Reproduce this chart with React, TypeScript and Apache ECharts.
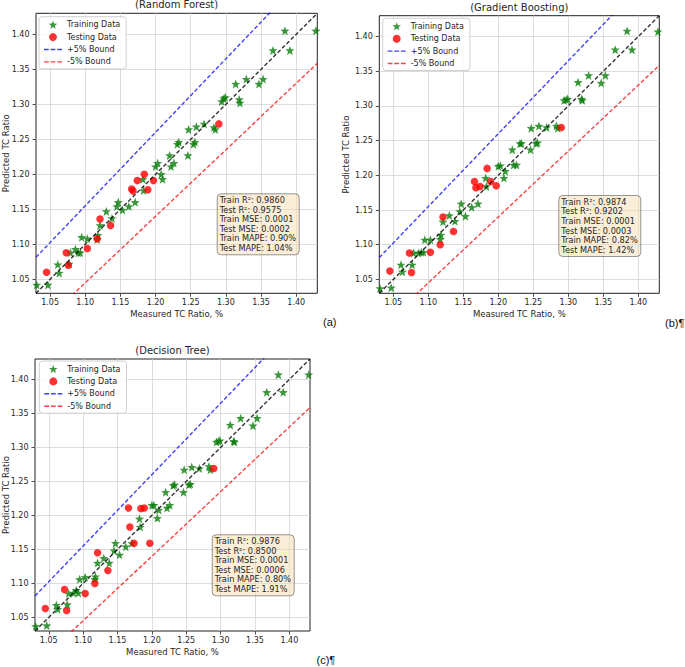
import { useEffect, useRef } from "react";
import * as echarts from "echarts";

const AXIS_MIN = 1.03;
const AXIS_MAX = 1.43;
const TICKS = [1.05, 1.1, 1.15, 1.2, 1.25, 1.3, 1.35, 1.4];
const BOUND = 0.05;

const trainMeasured = [
  1.031, 1.047, 1.061, 1.063, 1.077, 1.079, 1.086, 1.09, 1.093, 1.095, 1.103, 1.117, 1.118,
  1.121, 1.13, 1.138, 1.145, 1.147, 1.153, 1.162, 1.171, 1.182, 1.183, 1.2, 1.203, 1.208,
  1.21, 1.22, 1.222, 1.226, 1.231, 1.233, 1.246, 1.247, 1.254, 1.256, 1.258, 1.269, 1.283,
  1.285, 1.294, 1.297, 1.299, 1.314, 1.319, 1.32, 1.329, 1.347, 1.353, 1.367, 1.391, 1.384,
  1.428,
];
const trainPredRF = [
  1.042, 1.042, 1.071, 1.059, 1.072, 1.088, 1.093, 1.088, 1.088, 1.11, 1.108, 1.107, 1.113,
  1.127, 1.147, 1.137, 1.154, 1.16, 1.149, 1.154, 1.16, 1.193, 1.177, 1.211, 1.216, 1.2,
  1.193, 1.227, 1.211, 1.216, 1.243, 1.246, 1.227, 1.264, 1.243, 1.246, 1.268, 1.272, 1.267,
  1.264, 1.304, 1.308, 1.31, 1.329, 1.307, 1.302, 1.336, 1.329, 1.336, 1.377, 1.377, 1.405,
  1.405,
];
const trainPredGB = [
  1.037, 1.038, 1.071, 1.061, 1.071, 1.088, 1.088, 1.089, 1.089, 1.107, 1.107, 1.108, 1.114,
  1.133, 1.142, 1.134, 1.148, 1.159, 1.141, 1.154, 1.159, 1.196, 1.184, 1.213, 1.214, 1.196,
  1.206, 1.237, 1.215, 1.215, 1.246, 1.246, 1.237, 1.268, 1.246, 1.247, 1.271, 1.269, 1.271,
  1.268, 1.308, 1.309, 1.31, 1.334, 1.31, 1.308, 1.344, 1.333, 1.344, 1.381, 1.381, 1.408,
  1.407,
];
const trainPredDT = [
  1.037, 1.038, 1.068, 1.062, 1.069, 1.085, 1.086, 1.09, 1.086, 1.106, 1.109, 1.106, 1.11,
  1.13, 1.137, 1.13, 1.148, 1.159, 1.142, 1.154, 1.159, 1.195, 1.183, 1.215, 1.215, 1.196,
  1.208, 1.234, 1.211, 1.215, 1.244, 1.245, 1.234, 1.267, 1.245, 1.246, 1.271, 1.269, 1.272,
  1.267, 1.308, 1.309, 1.31, 1.333, 1.309, 1.308, 1.343, 1.332, 1.343, 1.381, 1.381, 1.407,
  1.407,
];

const testMeasured = [
  1.045, 1.073, 1.076, 1.103, 1.117, 1.121, 1.136, 1.166, 1.168, 1.174, 1.184, 1.189, 1.197, 1.29,
];
const testPredRF = [
  1.06, 1.088, 1.07, 1.094, 1.108, 1.136, 1.127, 1.179, 1.176, 1.191, 1.2, 1.178, 1.191, 1.272,
];
const testPredGB = [
  1.062, 1.088, 1.06, 1.089, 1.1, 1.14, 1.119, 1.191, 1.182, 1.184, 1.21, 1.191, 1.185, 1.269,
];
const testPredDT = [
  1.063, 1.091, 1.06, 1.085, 1.1, 1.145, 1.119, 1.211, 1.183, 1.159, 1.21, 1.211, 1.159, 1.269,
];

const panelTitles = ["(Random Forest)", "(Gradient Boosting)", "(Decision Tree)"];
const panelTags = ["(a)", "(b)¶", "(c)¶"];
const metricsRF = ["Train R²: 0.9860", "Test R²: 0.9575", "Train MSE: 0.0001", "Test MSE: 0.0002", "Train MAPE: 0.90%", "Test MAPE: 1.04%"];
const metricsGB = ["Train R²: 0.9874", "Test R²: 0.9202", "Train MSE: 0.0001", "Test MSE: 0.0003", "Train MAPE: 0.82%", "Test MAPE: 1.42%"];
const metricsDT = ["Train R²: 0.9876", "Test R²: 0.8500", "Train MSE: 0.0001", "Test MSE: 0.0006", "Train MAPE: 0.80%", "Test MAPE: 1.91%"];
const legendNames = ["Training Data", "Testing Data", "+5% Bound", "-5% Bound"];
const xName = "Measured TC Ratio, %";
const yName = "Predicted TC Ratio";

const FONT = "DejaVu Sans";
const TXT = "#262626";
const GREEN = "#0a7d0a";
const BLUE = "rgba(0,0,255,0.75)";
const RED_LINE = "rgba(255,0,0,0.75)";
const STAR =
  "path://M12,1 L14.9,8.6 L23,8.9 L16.6,13.9 L18.9,21.8 L12,17.2 L5.1,21.8 L7.4,13.9 L1,8.9 L9.1,8.6 Z";
const DASH_ICON = "path://M0,0H5V1.5H0Z M7,0H12V1.5H7Z M14,0H19V1.5H14Z";

const layouts = [
  { grid: { left: 36, top: 13.3, width: 281.3, height: 280 }, legend: { left: 39, top: 16.7 }, box: { left: 216.7, top: 193.3 }, yGap: 26, xGap: 16, tag: { x: 323, y: 322 } },
  { grid: { left: 379.3, top: 15.7, width: 280, height: 277.6 }, legend: { left: 382.7, top: 18.3 }, box: { left: 558.3, top: 195 }, yGap: 28.8, xGap: 16, tag: { x: 665, y: 323 } },
  { grid: { left: 35, top: 359, width: 275, height: 272 }, legend: { left: 39.3, top: 361 }, box: { left: 211.7, top: 534.3 }, yGap: 25, xGap: 16.5, tag: { x: 316.5, y: 660 } },
];

const panelData = [
  { train: trainPredRF, test: testPredRF, metrics: metricsRF },
  { train: trainPredGB, test: testPredGB, metrics: metricsGB },
  { train: trainPredDT, test: testPredDT, metrics: metricsDT },
];

function axisCommon(i: number, name: string, gap: number, labelMargin: number) {
  return {
    gridIndex: i,
    type: "value",
    min: AXIS_MIN,
    max: AXIS_MAX,
    splitNumber: 8,
    minInterval: 0.05,
    maxInterval: 0.05,
    name,
    nameLocation: "middle",
    nameGap: gap,
    nameMoveOverlap: false,
    nameTextStyle: { fontSize: 8.5, color: TXT, fontFamily: FONT },
    axisLine: { show: false },
    axisTick: { show: true, length: 3.5, lineStyle: { color: "#222", width: 0.8 }, customValues: TICKS },
    axisLabel: {
      customValues: TICKS,
      formatter: (v: number) => v.toFixed(2),
      fontSize: 8,
      color: TXT,
      fontFamily: FONT,
      margin: labelMargin,
    },
    splitLine: { show: true, lineStyle: { color: "#d4d4d4", width: 0.8 } },
  };
}

function buildOption() {
  const grid: any[] = [];
  const xAxis: any[] = [];
  const yAxis: any[] = [];
  const series: any[] = [];
  const legend: any[] = [];
  const title: any[] = [];
  const graphic: any[] = [];

  layouts.forEach((L, i) => {
    const P = panelData[i];
    grid.push({
      ...L.grid,
      show: true,
      borderColor: "#222",
      borderWidth: 1,
      backgroundColor: "transparent",
      containLabel: false,
      outerBoundsMode: "none",
    });
    xAxis.push(axisCommon(i, xName, L.xGap, 5));
    yAxis.push(axisCommon(i, yName, L.yGap, 6.5));

    series.push({
      type: "scatter",
      name: "Training Data",
      xAxisIndex: i,
      yAxisIndex: i,
      data: trainMeasured.map((x, j) => [x, P.train[j]]),
      symbol: STAR,
      symbolSize: 9,
      itemStyle: { color: GREEN },
      silent: true,
      z: 2,
    });
    series.push({
      type: "scatter",
      name: "Testing Data",
      xAxisIndex: i,
      yAxisIndex: i,
      data: testMeasured.map((x, j) => [x, P.test[j]]),
      symbol: "circle",
      symbolSize: 7.5,
      itemStyle: { color: "#ff0000" },
      silent: true,
      z: 2,
    });
    const ends = [AXIS_MIN, AXIS_MAX];
    series.push({
      type: "line",
      name: "+5% Bound",
      xAxisIndex: i,
      yAxisIndex: i,
      data: ends.map((x) => [x, x * (1 + BOUND)]),
      symbol: "none",
      clip: true,
      itemStyle: { color: BLUE },
      lineStyle: { color: BLUE, type: [4, 2.2], width: 1.4 },
      silent: true,
      z: 3,
    });
    series.push({
      type: "line",
      name: "-5% Bound",
      xAxisIndex: i,
      yAxisIndex: i,
      data: ends.map((x) => [x, x * (1 - BOUND)]),
      symbol: "none",
      clip: true,
      itemStyle: { color: RED_LINE },
      lineStyle: { color: RED_LINE, type: [4, 2.2], width: 1.4 },
      silent: true,
      z: 3,
    });
    series.push({
      type: "line",
      name: "Ideal",
      xAxisIndex: i,
      yAxisIndex: i,
      data: ends.map((x) => [x, x]),
      symbol: "none",
      clip: true,
      itemStyle: { color: "#000" },
      lineStyle: { color: "#000", type: [4, 2.2], width: 1.4, opacity: 0.8 },
      silent: true,
      z: 3,
    });

    legend.push({
      ...L.legend,
      orient: "vertical",
      data: [
        { name: legendNames[0] },
        { name: legendNames[1] },
        { name: legendNames[2], icon: DASH_ICON, itemStyle: { color: BLUE } },
        { name: legendNames[3], icon: DASH_ICON, itemStyle: { color: RED_LINE } },
      ],
      itemWidth: 18,
      itemHeight: 8,
      itemGap: 2.4,
      padding: [3, 6, 2, 5],
      selectedMode: false,
      textStyle: { fontSize: 8, lineHeight: 10, color: TXT, fontFamily: FONT },
      backgroundColor: "rgba(255,255,255,0.85)",
      borderColor: "#d0d0d0",
      borderWidth: 1,
      borderRadius: 3,
      z: 10,
    });

    title.push({
      ...L.box,
      text: P.metrics.join("\n"),
      textStyle: { fontSize: 8.2, fontWeight: "normal", lineHeight: 9.6, color: TXT, fontFamily: FONT },
      backgroundColor: "rgba(245,222,179,0.5)",
      borderColor: "rgba(0,0,0,0.4)",
      borderWidth: 1,
      borderRadius: 4,
      padding: [2, 3],
      z: 10,
    });

    graphic.push({
      type: "text",
      x: L.grid.left + L.grid.width / 2,
      y: L.grid.top - 8.5,
      style: { text: panelTitles[i], fontSize: 10, fontFamily: FONT, fill: TXT, align: "center", verticalAlign: "middle" },
    });
    graphic.push({
      type: "text",
      x: L.tag.x,
      y: L.tag.y,
      style: { text: panelTags[i], fontSize: 11, fontFamily: "Liberation Sans", fill: "#111", align: "left", verticalAlign: "middle" },
    });
  });

  return { animation: false, backgroundColor: "#fff", grid, xAxis, yAxis, series, legend, title, graphic };
}

export default function App() {
  const ref = useRef<HTMLDivElement>(null);
  useEffect(() => {
    if (!ref.current) return;
    const chart = echarts.init(ref.current, null, { renderer: "svg" });
    chart.setOption(buildOption() as any);
    return () => chart.dispose();
  }, []);
  return (
    <div
      ref={ref}
      style={{ position: "fixed", left: 0, top: 0, width: 685, height: 667, background: "#fff" }}
    />
  );
}
